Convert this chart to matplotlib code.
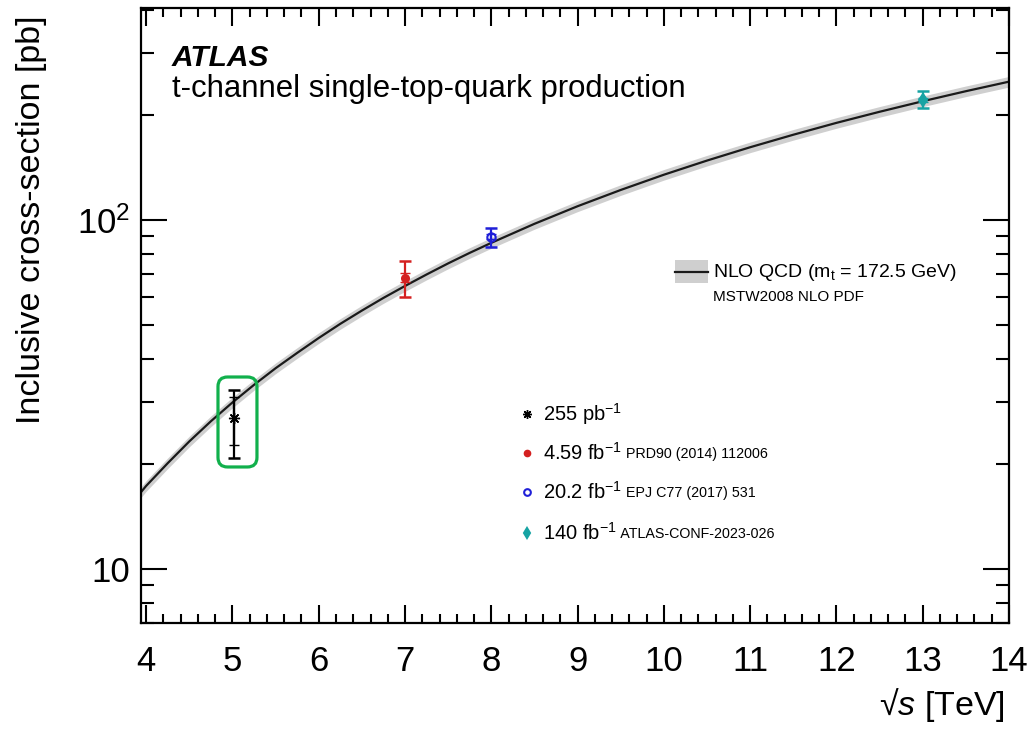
import matplotlib
matplotlib.use("Agg")
import matplotlib.pyplot as plt
from matplotlib.patches import FancyBboxPatch, Rectangle
from matplotlib.lines import Line2D
from matplotlib.ticker import FixedLocator, FixedFormatter, MultipleLocator, NullFormatter

plt.rcParams['font.family'] = ['Liberation Sans', 'DejaVu Sans']
plt.rcParams['mathtext.fontset'] = 'custom'
plt.rcParams['mathtext.rm'] = 'Liberation Sans'
plt.rcParams['mathtext.it'] = 'Liberation Sans:italic'
plt.rcParams['mathtext.bf'] = 'Liberation Sans:bold'

# NLO QCD prediction (pb) vs centre-of-mass energy (TeV)
sqrt_s = [3.94, 4.0, 4.25, 4.5, 4.75, 5.0, 5.25, 5.5, 5.75, 6.0, 6.25, 6.5,
          6.75, 7.0, 7.25, 7.5, 7.75, 8.0, 8.5, 9.0, 9.5, 10.0, 10.5, 11.0,
          11.5, 12.0, 12.5, 13.0, 13.5, 14.0]
sigma_nlo = [16.6, 17.3, 20.1, 23.2, 26.5, 30.0, 33.7, 37.6, 41.6, 45.9, 50.4,
             55.0, 59.8, 64.7, 69.8, 75.1, 80.5, 86.0, 97.5, 109.5, 121.9,
             134.8, 148.0, 161.6, 175.5, 189.8, 204.2, 218.9, 233.9, 249.1]
nlo_rel_unc = 0.035

# ATLAS measurements
meas_energy = [5.02, 7.0, 8.0, 13.0]
meas_xsec = [27.0, 68.3, 89.5, 221.0]
meas_tot_up = [5.6, 8.0, 5.5, 13.6]
meas_tot_dn = [6.2, 8.3, 6.0, 11.8]
meas_stat_up = [4.2, 2.0, 1.4, 3.0]
meas_stat_dn = [4.3, 2.0, 1.4, 3.0]
meas_lumi = ['255 pb$^{-1}$', '4.59 fb$^{-1}$', '20.2 fb$^{-1}$', '140 fb$^{-1}$']
meas_ref = ['', 'PRD90 (2014) 112006', 'EPJ C77 (2017) 531', 'ATLAS-CONF-2023-026']

colors = ['black', '#d42020', '#1f1fd8', '#16a3a3']
markers = [(8, 2, 0), 'o', 'o', 'd']
msizes = [8, 5, 6, 6]
mfaces = ['black', '#d42020', 'none', '#16a3a3']
mwidths = [1.0, 1.5, 1.5, 1.5]

fig = plt.figure(figsize=(10.27, 7.30), dpi=100)
ax = fig.add_axes([141 / 1027, 1 - 623 / 730, 868 / 1027, 615 / 730])

# theory band and central curve
lo = [s * (1 - nlo_rel_unc) for s in sigma_nlo]
hi = [s * (1 + nlo_rel_unc) for s in sigma_nlo]
ax.fill_between(sqrt_s, lo, hi, color='#cfcfcf', lw=0, zorder=1)
ax.plot(sqrt_s, sigma_nlo, color='#1a1a1a', lw=1.6, zorder=2)

# data points with total and stat-only error bars
for i in range(len(meas_energy)):
    ax.errorbar(meas_energy[i], meas_xsec[i],
                yerr=[[meas_tot_dn[i]], [meas_tot_up[i]]],
                fmt='none', ecolor=colors[i], elinewidth=1.6,
                capsize=4, capthick=1.8, zorder=4)
    ax.errorbar(meas_energy[i], meas_xsec[i],
                yerr=[[meas_stat_dn[i]], [meas_stat_up[i]]],
                fmt='none', ecolor=colors[i], elinewidth=1.6,
                capsize=3.5, capthick=1.0, zorder=4)
    ax.plot(meas_energy[i], meas_xsec[i], ls='none', marker=markers[i],
            ms=msizes[i], mfc=mfaces[i], mec=colors[i], mew=mwidths[i], zorder=5)

ax.set_xlim(3.94, 14.0)
ax.set_ylim(7.0, 405)
ax.set_yscale('log')

ax.xaxis.set_major_locator(MultipleLocator(1))
ax.xaxis.set_minor_locator(MultipleLocator(0.2))
ax.yaxis.set_major_locator(FixedLocator([10, 100]))
ax.yaxis.set_major_formatter(FixedFormatter(['10', '10$^{2}$']))
ax.yaxis.set_minor_locator(FixedLocator([7, 8, 9, 20, 30, 40, 50, 60, 70, 80, 90,
                                         200, 300, 400]))
ax.yaxis.set_minor_formatter(NullFormatter())

ax.tick_params(axis='both', which='both', direction='in', top=True, right=True,
               width=1.5, labelsize=25)
ax.tick_params(axis='x', which='major', length=13, pad=16)
ax.tick_params(axis='x', which='minor', length=6.5)
ax.tick_params(axis='y', which='major', length=19, pad=8)
ax.tick_params(axis='y', which='minor', length=9.5)
for sp in ax.spines.values():
    sp.set_linewidth(1.6)

fig.text(32 / 1027, 1 - 220 / 730, 'Inclusive cross-section [pb]', rotation=90,
         ha='center', va='center', fontsize=24.5)
fig.text(1005 / 1027, 1 - 705 / 730, '\u221a$s$ [TeV]', ha='right',
         va='center', fontsize=24.5)

ax.text(0.0357, 0.919, 'ATLAS', transform=ax.transAxes, fontsize=21.5,
        fontweight='bold', fontstyle='italic', va='center')
ax.text(0.0357, 0.868, 't-channel single-top-quark production',
        transform=ax.transAxes, fontsize=22.4, va='center')

# theory legend entry
ax.add_patch(Rectangle((0.6152, 0.5528), 0.0381, 0.0374, transform=ax.transAxes,
                       color='#cfcfcf', lw=0, zorder=6))
ax.add_line(Line2D([0.6152, 0.6533], [0.5715, 0.5715], transform=ax.transAxes,
                   color='#1a1a1a', lw=1.6, zorder=7))
ax.text(0.659, 0.5707, r'NLO QCD (m$_{\mathrm{t}}$ = 172.5 GeV)',
        transform=ax.transAxes, fontsize=14, va='center')
ax.text(0.659, 0.530, 'MSTW2008 NLO PDF', transform=ax.transAxes,
        fontsize=11, va='center')

# data legend
rows_y = [0.3398, 0.2764, 0.2130, 0.1463]
for i, yy in enumerate(rows_y):
    ax.plot(0.4447, yy, transform=ax.transAxes, ls='none', marker=markers[i],
            ms=msizes[i] * 0.8, mfc=mfaces[i], mec=colors[i], mew=mwidths[i],
            clip_on=False)
    t = ax.text(0.463, yy, meas_lumi[i], transform=ax.transAxes,
                fontsize=14.5, va='center')
    if meas_ref[i]:
        ax.annotate(' ' + meas_ref[i], xy=(1, 0.12), xycoords=t,
                    fontsize=10.3, va='bottom', ha='left')

# highlight box around the 5 TeV measurement
box = FancyBboxPatch((0.0887, 0.2537), 0.0449, 0.1463,
                     boxstyle='round,pad=0,rounding_size=0.011',
                     mutation_aspect=868 / 615, transform=ax.transAxes,
                     fill=False, ec='#11b04c', lw=2.3, zorder=8, clip_on=False)
ax.add_patch(box)

fig.savefig('out.png', dpi=100)
